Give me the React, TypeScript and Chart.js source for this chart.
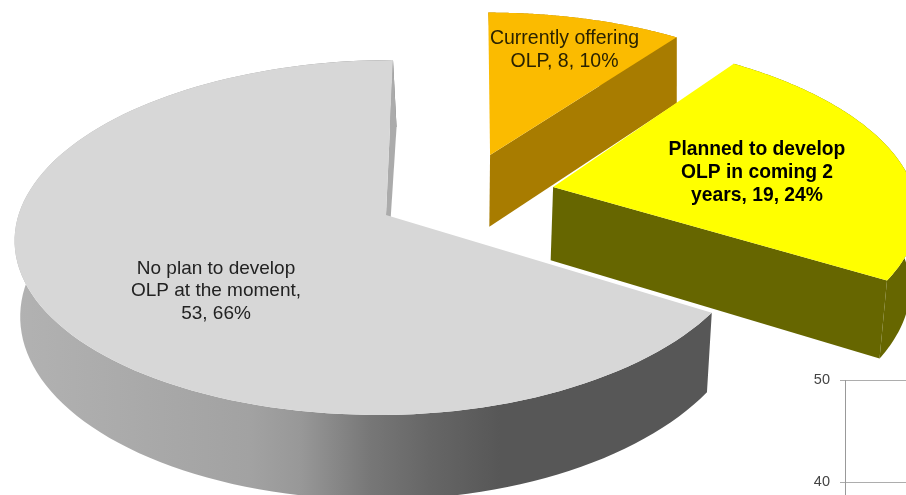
import React, { useEffect, useRef } from "react";
import { Chart, registerables } from "chart.js";

Chart.register(...registerables);

const categories = ["Currently offering OLP", "Planned to develop OLP in coming 2 years", "No plan to develop OLP at the moment"];
const values = [8, 19, 53];
const labelLines = [
  ["Currently offering", "OLP, 8, 10%"],
  ["Planned to develop", "OLP in coming 2", "years, 19, 24%"],
  ["No plan to develop", "OLP at the moment,", "53, 66%"],
];
const axisTicks = [50, 40];

const topColors = ["#FBBB00", "#FFFF00", "#D7D7D7"];
const sideColors = ["#A87C00", "#666600", "#ABABAB"];
const explode = [[0.279, -0.359], [0.444, -0.164], [0, 0]];
const sliceShape = [
  { uScale: 0.98, squeeze: 0, skew: 9, shiftX: 0 },
  { uScale: 0.98, squeeze: 0.02, skew: 4, shiftX: 0 },
  { uScale: 0.98, squeeze: 0.035, skew: 7, shiftX: -4 },
];
const labelBoxes = [
  { x: 564.5, y: 39, h: 23, font: "19.5px 'Liberation Sans'", color: "#2a2200" },
  { x: 757, y: 150, h: 23, font: "bold 19.3px 'Liberation Sans'", color: "#000" },
  { x: 216, y: 268.5, h: 22.5, font: "19px 'Liberation Sans'", color: "#222" },
];

// perspective projection of the pie's plane on the picture
const CX = 390, CY = 215, R = 375, A = 174.6, K = 0.1268;
function project(u: number, v: number, squeeze: number): [number, number] {
  const w = 1 - K * v;
  const uu = u > 0 && v > 0 ? u * (1 - squeeze * v) : u;
  return [CX + (R * uu) / w, CY + (A * v) / w];
}
function lower([x, y]: [number, number]): [number, number] {
  const shift = y < 180 ? (180 - y) * 0.03 : 0;
  return [CX + 0.985 * (x - CX) + shift, y + 73 + 0.05 * (y - 180)];
}

const pie3d = {
  id: "pie3d",
  beforeDatasetsDraw(chart: any) {
    const ctx: CanvasRenderingContext2D = chart.ctx;
    const meta = chart.getDatasetMeta(0);
    meta.data.forEach((arc: any, i: number) => {
      const { startAngle, endAngle } = arc;
      const [ox, oy] = explode[i];
      const s = sliceShape[i];
      const place = (du: number, dv: number): [number, number] => {
        const p = project(ox + s.uScale * du, oy + dv, s.squeeze);
        return [p[0] + s.shiftX - s.skew * dv, p[1]];
      };
      const rim: [number, number][] = [];
      const N = 120;
      for (let k = 0; k <= N; k++) {
        const a = startAngle + ((endAngle - startAngle) * k) / N;
        rim.push(place(Math.cos(a), Math.sin(a)));
      }
      const apex = place(0, 0);
      const poly = (pts: [number, number][], fill: any) => {
        ctx.beginPath();
        pts.forEach((p, j) => (j ? ctx.lineTo(p[0], p[1]) : ctx.moveTo(p[0], p[1])));
        ctx.closePath();
        ctx.fillStyle = fill;
        ctx.fill();
      };
      let side: any = sideColors[i];
      if (i === 2) {
        const g = ctx.createLinearGradient(15, 0, 712, 0);
        g.addColorStop(0, "#B2B2B2");
        g.addColorStop(0.337, "#A2A2A2");
        g.addColorStop(0.409, "#989898");
        g.addColorStop(0.509, "#777777");
        g.addColorStop(0.595, "#666666");
        g.addColorStop(0.696, "#575757");
        g.addColorStop(1, "#575757");
        side = g;
      }
      poly([...rim, ...rim.map(lower).reverse()], side);
      const end = rim[rim.length - 1];
      poly([apex, end, lower(end), lower(apex)], sideColors[i]);
      poly([apex, ...rim], chart.data.datasets[0].backgroundColor[i]);
    });
    labelLines.forEach((lines, i) => {
      const b = labelBoxes[i];
      ctx.font = b.font;
      ctx.fillStyle = b.color;
      ctx.textAlign = "center";
      ctx.textBaseline = "middle";
      lines.forEach((t, j) => ctx.fillText(t, b.x, b.y + j * b.h));
    });
    return false;
  },
};

export default function App() {
  const pieRef = useRef<HTMLCanvasElement>(null);
  const axisRef = useRef<HTMLCanvasElement>(null);
  useEffect(() => {
    document.body.style.background = "#fff";
    const pie = new Chart(pieRef.current!, {
      type: "pie",
      data: { labels: categories, datasets: [{ data: values, backgroundColor: topColors, borderWidth: 0 }] },
      options: {
        animation: false,
        responsive: false,
        devicePixelRatio: 1,
        plugins: { legend: { display: false }, tooltip: { enabled: false } },
      },
      plugins: [pie3d],
    } as any);
    const axis = new Chart(axisRef.current!, {
      type: "bar",
      data: { labels: [], datasets: [{ data: [] }] },
      options: {
        animation: false,
        responsive: false,
        devicePixelRatio: 1,
        layout: { padding: { top: 20, left: 0, right: 0, bottom: 0 } },
        plugins: { legend: { display: false }, tooltip: { enabled: false } },
        scales: {
          x: { display: false },
          y: {
            min: 38.73,
            max: 50,
            afterBuildTicks: (s: any) => {
              s.ticks = axisTicks.map((value) => ({ value }));
            },
            afterFit: (s: any) => {
              s.width = 55;
            },
            grid: { color: "#ADADAD", tickLength: 5, lineWidth: 1 },
            border: { color: "#999999" },
            ticks: { color: "#444444", padding: 10, font: { family: "Liberation Sans", size: 14.5 } },
          },
        },
      },
    } as any);
    return () => {
      pie.destroy();
      axis.destroy();
    };
  }, []);
  return (
    <div style={{ position: "fixed", left: 0, top: 0, width: 906, height: 495, overflow: "hidden", background: "#fff" }}>
      <canvas ref={pieRef} width={906} height={495} style={{ position: "absolute", left: 0, top: 0 }} />
      <canvas ref={axisRef} width={116} height={154} style={{ position: "absolute", left: 790, top: 360 }} />
    </div>
  );
}
